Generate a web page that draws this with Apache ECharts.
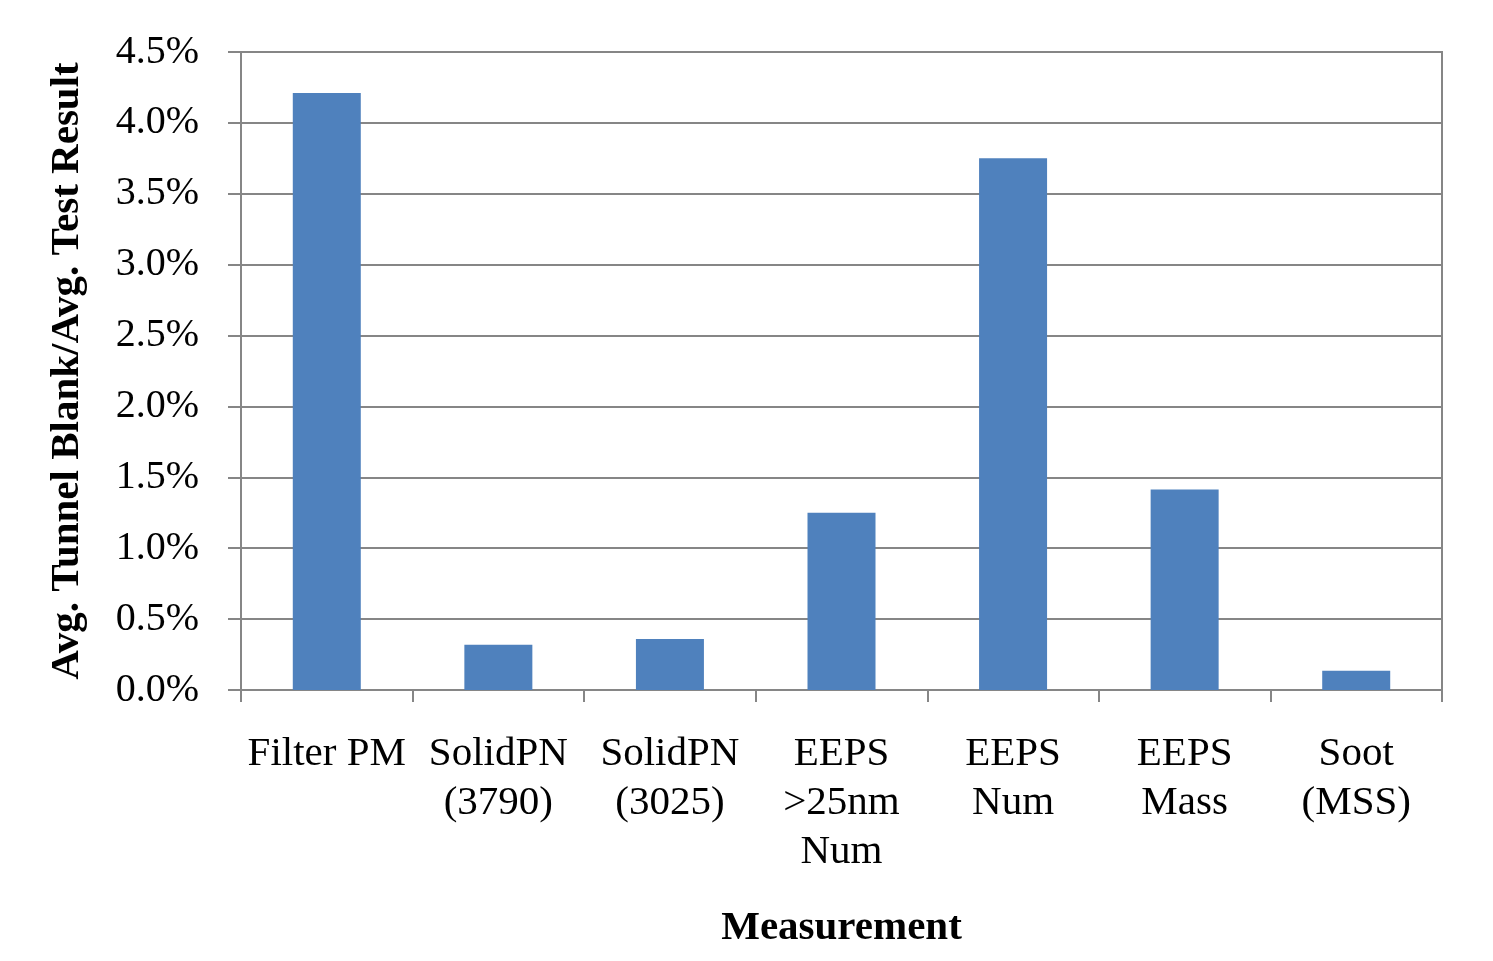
<!DOCTYPE html>
<html>
<head>
<meta charset="utf-8">
<script src="https://cdn.jsdelivr.net/npm/echarts@6/dist/echarts.min.js"></script>
<style>
  html, body { margin: 0; padding: 0; background: #ffffff; }
  #chart { width: 1493px; height: 961px; }
</style>
</head>
<body>
<div id="chart"></div>
<script>
// Measurement categories (multi-line labels as shown under the axis)
const categories = [
  'Filter PM',
  'SolidPN\n(3790)',
  'SolidPN\n(3025)',
  'EEPS\n>25nm\nNum',
  'EEPS\nNum',
  'EEPS\nMass',
  'Soot\n(MSS)'
];

// Average tunnel blank as a percentage of the average test result
const blankRatioPct = [4.21, 0.32, 0.36, 1.25, 3.75, 1.415, 0.136];

// Value axis range (percent)
const yMin = 0;
const yMax = 4.5;
const yStep = 0.5;

const axisGray = '#868686';
const serif = '"Liberation Serif", "Times New Roman", serif';

const chart = echarts.init(document.getElementById('chart'), null, { renderer: 'canvas' });

chart.setOption({
  animation: false,
  backgroundColor: '#ffffff',
  grid: {
    left: 241,
    right: 51,
    top: 52,
    bottom: 271,
    show: true,
    borderColor: axisGray,
    borderWidth: 2,
    containLabel: false
  },
  xAxis: {
    type: 'category',
    data: categories,
    name: 'Measurement',
    nameLocation: 'middle',
    nameGap: 218,
    nameTextStyle: {
      fontFamily: serif,
      fontWeight: 'bold',
      fontSize: 41,
      color: '#000000'
    },
    axisLine: { show: true, lineStyle: { color: axisGray, width: 2 } },
    axisTick: { show: true, length: 12, lineStyle: { color: axisGray, width: 2 } },
    axisLabel: {
      margin: 40,
      interval: 0,
      fontFamily: serif,
      fontSize: 41,
      lineHeight: 49,
      color: '#000000',
      verticalAlign: 'top'
    }
  },
  yAxis: {
    type: 'value',
    min: yMin,
    max: yMax,
    interval: yStep,
    name: 'Avg. Tunnel Blank/Avg. Test Result',
    nameLocation: 'middle',
    nameGap: 153,
    nameTextStyle: {
      fontFamily: serif,
      fontWeight: 'bold',
      fontSize: 41,
      color: '#000000'
    },
    axisLine: { show: true, lineStyle: { color: axisGray, width: 2 } },
    axisTick: { show: true, length: 13, lineStyle: { color: axisGray, width: 2 } },
    splitLine: { show: true, lineStyle: { color: axisGray, width: 2 } },
    axisLabel: {
      margin: 42,
      fontFamily: serif,
      fontSize: 40,
      color: '#000000',
      formatter: v => v.toFixed(1) + '%'
    }
  },
  series: [{
    type: 'bar',
    data: blankRatioPct,
    barWidth: 68,
    itemStyle: { color: '#4F81BD' }
  }]
});
</script>
</body>
</html>
